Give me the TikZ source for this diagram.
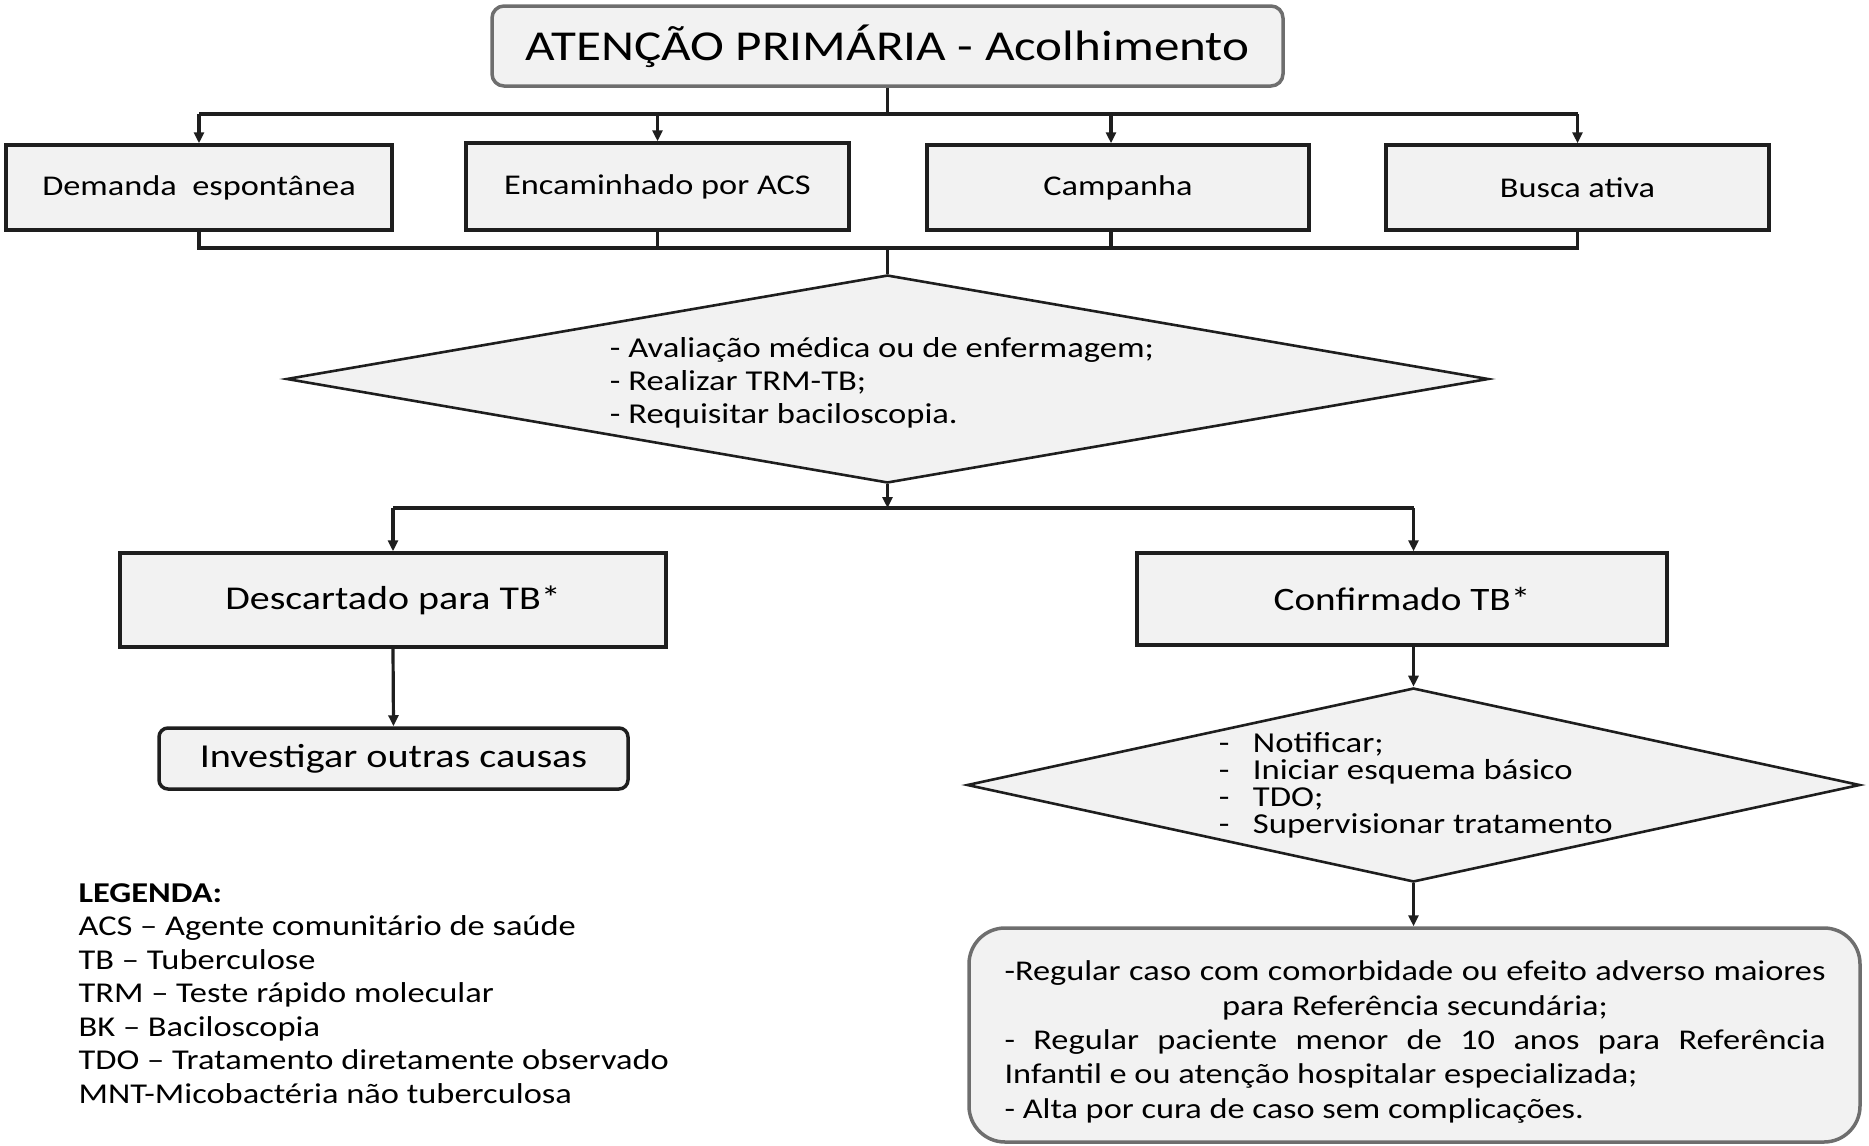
\documentclass[tikz,border=0pt]{standalone}
\usepackage{fontspec}
\setmainfont{Carlito}[FakeStretch=1.2]
\usetikzlibrary{shapes.geometric,arrows.meta}
\definecolor{boxfill}{HTML}{F2F2F2}
\definecolor{edge}{HTML}{1E1E1E}
\definecolor{softedge}{HTML}{6E6E6E}
\newcommand{\natsp}{\spaceskip=0pt\xspaceskip=0pt\lineskiplimit=-50pt\relax}
\begin{document}
\begin{tikzpicture}[x=1pt,y=-1pt,
  line width=3.2pt,
  conn/.style={draw=edge, line width=3.2pt},
  arr/.style={conn, -{Triangle[length=11pt,width=10pt]}},
  sqbox/.style={draw=edge, line width=3.5pt, fill=boxfill, inner sep=0pt},
  rbox/.style={draw=softedge, line width=3.5pt, fill=boxfill, inner sep=0pt},
  dia/.style={diamond, draw=edge, line width=2.6pt, fill=boxfill, inner sep=0pt, aspect=5},
  frow/.style={font=\fontsize{28.6}{32}\selectfont},
  fmid/.style={font=\fontsize{33.3}{38}\selectfont},
]
\useasboundingbox (0,0) rectangle (1869,1146);

% top
\node[rbox, rounded corners=12pt, minimum width=791pt, minimum height=80pt,
      font=\fontsize{42.6}{48}\selectfont] (top) at (887.5,46) {ATENÇÃO PRIMÁRIA - Acolhimento};

% row of four
\node[sqbox, minimum width=386pt, minimum height=85pt, frow] (dem) at (199,187.5) {Demanda\ \ espontânea};
\node[sqbox, minimum width=383pt, minimum height=87pt, frow] (enc) at (657.5,186.5) {Encaminhado por ACS};
\node[sqbox, minimum width=382pt, minimum height=85pt, frow] (cam) at (1118,187.5) {Campanha};
\node[sqbox, minimum width=383pt, minimum height=85pt, frow] (bus) at (1577.5,187.5) {Busca ativa};

\coordinate (h1) at (887.5,114);
\coordinate (j1) at (887.5,248);
\coordinate (camx) at (1111,248);

% diamond 1
\node[dia, minimum width=1202pt, minimum height=208pt] (d1) at (887.5,379) {};
\node[align=left, anchor=west, font=\fontsize{28.8}{33}\selectfont] (d1t) at (605,383)
  {\natsp - Avaliação médica ou de enfermagem;\\- Realizar TRM-TB;\\- Requisitar baciloscopia.};

\coordinate (h2) at (887.5,508);

% second level
\node[sqbox, minimum width=546pt, minimum height=94pt, fmid] (des) at (393,600) {Descartado para TB*};
\node[sqbox, minimum width=530pt, minimum height=92pt, font=\fontsize{32.7}{38}\selectfont] (con) at (1402,599) {Confirmado TB*};

\node[rbox, draw=edge, rounded corners=9pt, minimum width=469pt, minimum height=61pt,
      font=\fontsize{33.5}{38}\selectfont] (inv) at (393.5,758.5) {Investigar outras causas};

% diamond 2
\node[dia, minimum width=893pt, minimum height=194pt] (d2) at (1413.5,785) {};
\node[anchor=west, align=left, font=\fontsize{28.9}{27}\selectfont] (d2t) at (1214,785)
  {\natsp\makebox[34pt][l]{-}Notificar;\\\makebox[34pt][l]{-}Iniciar esquema básico\\\makebox[34pt][l]{-}TDO;\\\makebox[34pt][l]{-}Supervisionar tratamento};

% final box
\node[rbox, rounded corners=36pt, minimum width=891pt, minimum height=214pt] (reg) at (1414.5,1035) {};
\node[anchor=center, align=left, text width=821pt, font=\fontsize{28.6}{34.3}\selectfont] (regt) at (1415,1042)
  {\natsp\makebox[821pt][s]{-Regular caso com comorbidade ou efeito adverso maiores}\\
   \makebox[821pt][c]{para Referência secundária;}\\
   \makebox[821pt][s]{- Regular paciente menor de 10 anos para Referência}\\
   Infantil e ou atenção hospitalar especializada;\\
   - Alta por cura de caso sem complicações.};

% legend
\node[anchor=north west, align=left, inner sep=0pt, font=\fontsize{28.7}{33.5}\selectfont] (leg) at (77,882)
  {\natsp\textbf{LEGENDA:}\\
   ACS – Agente comunitário de saúde\\
   TB – Tuberculose\\
   TRM – Teste rápido molecular\\
   BK – Baciloscopia\\
   TDO – Tratamento diretamente observado\\
   MNT-Micobactéria não tuberculosa};

% connectors
\draw[conn] (top.south) -- (h1);
\draw[conn] (dem.north |- h1) -- (bus.north |- h1);
\draw[arr] (dem.north |- h1) -- (dem.north);
\draw[arr] (enc.north |- h1) -- (enc.north);
\draw[arr] (camx |- h1) -- (camx |- cam.north);
\draw[arr] (bus.north |- h1) -- (bus.north);

\draw[conn] (dem.south) -- (dem.south |- j1) -- (bus.south |- j1) -- (bus.south);
\draw[conn] (enc.south) -- (enc.south |- j1);
\draw[conn] (camx |- cam.south) -- (camx);
\draw[conn] (j1) -- (d1.north);

\draw[arr] (d1.south) -- (h2);
\draw[conn] (des.north |- h2) -- (d2.north |- h2);
\draw[arr] (des.north |- h2) -- (des.north);
\draw[arr] (d2.north |- h2) -- (d2.north |- con.north);

\draw[arr] (des.south) -- (inv.north);
\draw[arr] (d2.north |- con.south) -- (d2.north);
\draw[arr] (d2.south) -- (reg.north -| d2.south);
\end{tikzpicture}
\end{document}
